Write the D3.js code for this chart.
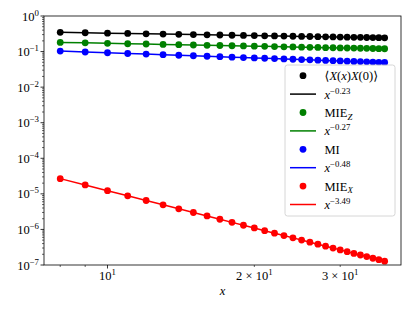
<!DOCTYPE html>
<html>
<head>
<meta charset="utf-8">
<script src="https://cdn.jsdelivr.net/npm/d3@7"></script>
<style>
body { margin: 0; background: #fff; }
text { font-family: "Liberation Serif", "DejaVu Serif", serif; fill: #000; }
</style>
</head>
<body>
<svg id="chart" width="415" height="311"></svg>
<script>
// data
var xVals = [8, 9, 10, 11, 12, 13, 14, 15, 16, 17, 18, 19, 20, 21, 22, 23, 24, 25, 26, 27, 28, 29, 30, 31, 32, 33, 34, 35, 36, 37];
var corrVals = [0.347, 0.338, 0.330, 0.323, 0.316, 0.310, 0.305, 0.300, 0.296, 0.292, 0.288, 0.285, 0.281, 0.278, 0.275, 0.272, 0.270, 0.267, 0.265, 0.262, 0.260, 0.258, 0.256, 0.254, 0.252, 0.251, 0.249, 0.247, 0.246, 0.244];
var mieZVals = [0.181, 0.176, 0.171, 0.166, 0.163, 0.159, 0.156, 0.153, 0.150, 0.148, 0.146, 0.144, 0.142, 0.140, 0.138, 0.136, 0.135, 0.133, 0.132, 0.131, 0.129, 0.128, 0.127, 0.126, 0.125, 0.124, 0.123, 0.122, 0.121, 0.120];
var miVals = [0.1030, 0.0973, 0.0926, 0.0884, 0.0848, 0.0816, 0.0787, 0.0762, 0.0739, 0.0717, 0.0698, 0.0680, 0.0664, 0.0648, 0.0634, 0.0620, 0.0608, 0.0596, 0.0585, 0.0574, 0.0565, 0.0555, 0.0546, 0.0538, 0.0530, 0.0522, 0.0514, 0.0507, 0.0500, 0.0494];
var mieXVals = [2.68e-5, 1.78e-5, 1.23e-5, 8.82e-6, 6.51e-6, 4.92e-6, 3.80e-6, 2.99e-6, 2.39e-6, 1.93e-6, 1.58e-6, 1.31e-6, 1.10e-6, 9.23e-7, 7.85e-7, 6.72e-7, 5.79e-7, 5.02e-7, 4.38e-7, 3.84e-7, 3.38e-7, 2.99e-7, 2.66e-7, 2.37e-7, 2.12e-7, 1.91e-7, 1.72e-7, 1.55e-7, 1.41e-7, 1.28e-7];
var fitExps = ['\u22120.23', '\u22120.27', '\u22120.48', '\u22123.49'];
var seriesColors = ['#000000', '#008000', '#0000ff', '#ff0000'];
var yTickExps = [0, -1, -2, -3, -4, -5, -6, -7];
var xMajorTicks = [10];
var xMinorTicks = [8, 9, 20, 30];
var xMinorLabels = [2, 3];

var svg = d3.select('#chart');
var pLeft = 44, pRight = 401, pTop = 16, pBottom = 265;
var fs = 12.5, fsSmall = 8.8;

var x = d3.scaleLog().domain([7.41, 39.97]).range([pLeft, pRight]);
var y = d3.scaleLog().domain([1e-7, 1]).range([pBottom, pTop]);

var series = [corrVals, mieZVals, miVals, mieXVals];

// data markers + lines
series.forEach(function(vals, i) {
	var pts = xVals.map(function(d, j) { return {x: d, y: vals[j]}; });
	var g = svg.append('g');
	g.selectAll('circle')
		.data(pts)
		.enter()
		.append('circle')
		.attr('cx', function(d) { return x(d.x); })
		.attr('cy', function(d) { return y(d.y); })
		.attr('r', 3.4)
		.attr('fill', seriesColors[i]);
	g.append('path')
		.datum(pts)
		.attr('fill', 'none')
		.attr('stroke', seriesColors[i])
		.attr('stroke-width', 1.5)
		.attr('d', d3.line().x(function(d) { return x(d.x); }).y(function(d) { return y(d.y); }));
});

// frame
svg.append('rect')
	.attr('x', pLeft).attr('y', pTop)
	.attr('width', pRight - pLeft).attr('height', pBottom - pTop)
	.attr('fill', 'none').attr('stroke', '#000').attr('stroke-width', 0.8);

// y ticks
var yMinor = [];
for (var e = -7; e < 0; e++) {
	for (var k = 2; k <= 9; k++) yMinor.push(k * Math.pow(10, e));
}
svg.selectAll('.yminor')
	.data(yMinor)
	.enter()
	.append('line')
	.attr('x1', pLeft - 2).attr('x2', pLeft)
	.attr('y1', function(d) { return y(d); })
	.attr('y2', function(d) { return y(d); })
	.attr('stroke', '#000').attr('stroke-width', 0.6);

yTickExps.forEach(function(p) {
	var yy = y(Math.pow(10, p));
	svg.append('line')
		.attr('x1', pLeft - 3.5).attr('x2', pLeft)
		.attr('y1', yy).attr('y2', yy)
		.attr('stroke', '#000').attr('stroke-width', 0.8);
	var t = svg.append('text')
		.attr('x', 39).attr('y', yy + 4.5)
		.attr('text-anchor', 'end')
		.attr('font-size', fs);
	t.append('tspan').text('10');
	t.append('tspan').attr('dy', -5).attr('font-size', fsSmall)
		.text(p < 0 ? '\u2212' + (-p) : String(p));
});

// x ticks
xMajorTicks.forEach(function(v) {
	svg.append('line')
		.attr('x1', x(v)).attr('x2', x(v))
		.attr('y1', pBottom).attr('y2', pBottom + 3.5)
		.attr('stroke', '#000').attr('stroke-width', 0.8);
	var t = svg.append('text')
		.attr('x', x(v)).attr('y', 280)
		.attr('text-anchor', 'middle')
		.attr('font-size', fs);
	t.append('tspan').text('10');
	t.append('tspan').attr('dy', -5).attr('font-size', fsSmall).text('1');
});
xMinorTicks.forEach(function(v) {
	svg.append('line')
		.attr('x1', x(v)).attr('x2', x(v))
		.attr('y1', pBottom).attr('y2', pBottom + 2)
		.attr('stroke', '#000').attr('stroke-width', 0.6);
});
xMinorLabels.forEach(function(m) {
	var t = svg.append('text')
		.attr('x', x(m * 10)).attr('y', 280)
		.attr('text-anchor', 'middle')
		.attr('font-size', fs);
	t.append('tspan').text(m + ' \u00d7 10');
	t.append('tspan').attr('dy', -5).attr('font-size', fsSmall).text('1');
});

svg.append('text')
	.attr('x', (pLeft + pRight) / 2).attr('y', 295)
	.attr('text-anchor', 'middle')
	.attr('font-size', fs)
	.attr('font-style', 'italic')
	.text('x');

// legend
var lg = svg.append('g');
lg.append('rect')
	.attr('x', 285).attr('y', 65)
	.attr('width', 110).attr('height', 151)
	.attr('rx', 2.5)
	.attr('fill', '#fff').attr('fill-opacity', 0.8)
	.attr('stroke', '#cccccc').attr('stroke-width', 0.8);

var dataLabels = [
	[{t: '\u27e8'}, {t: 'X', it: true}, {t: '('}, {t: 'x', it: true}, {t: ')'}, {t: 'X', it: true}, {t: '(0)\u27e9'}],
	[{t: 'MIE'}, {t: 'Z', sub: true}],
	[{t: 'MI'}],
	[{t: 'MIE'}, {t: 'X', sub: true}]
];

function addLabel(parts, tx, ty) {
	var t = lg.append('text').attr('x', tx).attr('y', ty).attr('font-size', fs);
	var shift = 0;
	parts.forEach(function(p) {
		var s = t.append('tspan').text(p.t);
		var want = p.sup ? -5 : (p.sub ? 2.5 : 0);
		if (want !== shift) { s.attr('dy', want - shift); shift = want; }
		if (p.sup || p.sub) s.attr('font-size', fsSmall);
		if (p.it || p.sub) s.attr('font-style', 'italic');
	});
}

var rowY0 = 75.7, rowStep = 18.4;
seriesColors.forEach(function(c, i) {
	var ry = rowY0 + 2 * i * rowStep;
	lg.append('circle').attr('cx', 303).attr('cy', ry).attr('r', 3.4).attr('fill', c);
	addLabel(dataLabels[i], 324.5, ry + 4.5);
	var ry2 = ry + rowStep;
	lg.append('line')
		.attr('x1', 290).attr('x2', 316)
		.attr('y1', ry2).attr('y2', ry2)
		.attr('stroke', c).attr('stroke-width', 1.5);
	addLabel([{t: 'x', it: true}, {t: fitExps[i], sup: true}], 324.5, ry2 + 4.5);
});
</script>
</body>
</html>
